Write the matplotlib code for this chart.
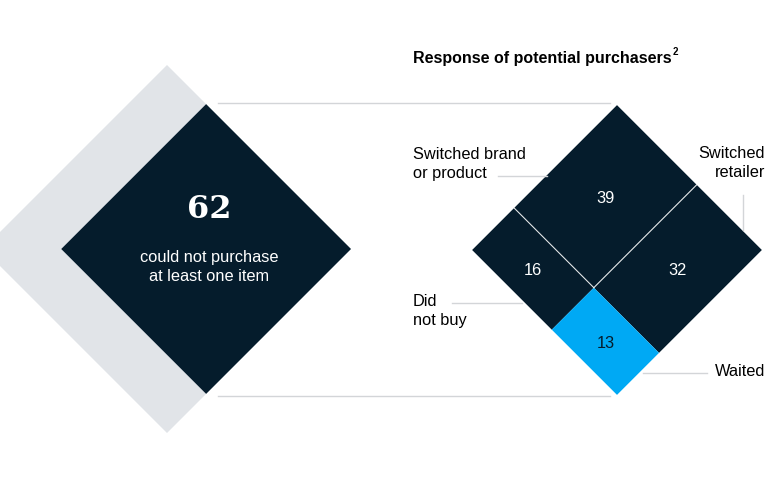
import numpy as np
import matplotlib.pyplot as plt
from matplotlib.patches import Polygon

# data
all_respondents = 100
could_not_purchase = 62
responses = ["Switched brand\nor product", "Switched\nretailer", "Did\nnot buy", "Waited"]
shares = [39, 32, 16, 13]   # share of potential purchasers, %

navy = "#051c2c"
cyan = "#00a9f4"
grey = "#e1e4e8"
rule = "#d3d5d8"
sans = ["Liberation Sans", "DejaVu Sans"]
fs = 11.8

fig = plt.figure(figsize=(7.67, 4.8), dpi=100)
ax = fig.add_axes([0, 0, 1, 1])
ax.set_xlim(0, 767)
ax.set_ylim(480, 0)
ax.axis("off")


def diamond(cx, cy, h, **kw):
    pts = [(cx - h, cy), (cx, cy - h), (cx + h, cy), (cx, cy + h)]
    ax.add_patch(Polygon(pts, closed=True, **kw))


# left side: all respondents vs. could not purchase (area ~ value)
cy = 249
h_all = 184
right_tip = 351
h_62 = h_all * np.sqrt(could_not_purchase / all_respondents)
diamond(right_tip - h_all, cy, h_all, facecolor=grey, edgecolor="none")
cx62 = right_tip - h_62
diamond(cx62, cy, h_62, facecolor=navy, edgecolor="none")
ax.text(cx62 + 3, 210, str(could_not_purchase), color="white", ha="center", va="center",
        fontsize=23, fontfamily="DejaVu Serif", fontweight="bold")
ax.text(cx62 + 3, 267, "could not purchase\nat least one item", color="white", ha="center",
        va="center", fontsize=fs, fontfamily=sans, linespacing=1.3)

# right side: mosaic split of the 62
rcx, rcy = 617, 250
h = h_62
L = np.array([rcx - h, rcy])
T = np.array([rcx, rcy - h])
B = np.array([rcx, rcy + h])

# lines joining the two diamonds
ax.plot([218, rcx - 7], [cy - h_62 - 1, cy - h_62 - 1], color=rule, lw=1)
ax.plot([218, rcx - 7], [cy + h_62 + 2, cy + h_62 + 2], color=rule, lw=1)

brand, retailer, nobuy, waited = shares
a = (nobuy + waited) / 100
b = (nobuy + brand) / 100


def pt(s, t):
    return L + s * (T - L) + t * (B - L)


cells = [
    (brand, a, 1, 0, b, navy, "white"),
    (retailer, a, 1, b, 1, navy, "white"),
    (nobuy, 0, a, 0, b, navy, "white"),
    (waited, 0, a, b, 1, cyan, navy),
]
for val, s0, s1, t0, t1, fc, tc in cells:
    poly = [pt(s0, t0), pt(s1, t0), pt(s1, t1), pt(s0, t1)]
    ax.add_patch(Polygon(poly, closed=True, facecolor=fc, edgecolor="none"))
    c = pt((s0 + s1) / 2, (t0 + t1) / 2)
    ax.text(c[0], c[1] + 2, str(val), color=tc, ha="center", va="center",
            fontsize=fs, fontfamily=sans)

# divider lines
p0, p1 = pt(a, 0), pt(a, b)
ax.plot([p0[0], p1[0]], [p0[1], p1[1]], color="white", lw=0.8, alpha=0.85)
p2 = pt(1, b)
ax.plot([p1[0], p2[0]], [p1[1], p2[1]], color="white", lw=0.8, alpha=0.85)

# title
ax.text(413, 59, "Response of potential purchasers", fontsize=11.5, fontweight="bold",
        fontfamily=sans, va="center", ha="left", color="black")
ax.text(673, 52, "2", fontsize=7, fontweight="bold", fontfamily=sans, va="center", color="black")

# labels with leader lines
ax.text(413, 164, responses[0], fontsize=fs, fontfamily=sans, va="center", linespacing=1.3)
ax.plot([498, 547], [176, 176], color=rule, lw=1)

ax.text(413, 311, responses[2], fontsize=fs, fontfamily=sans, va="center", linespacing=1.4)
ax.plot([452, 522], [303, 303], color=rule, lw=1)

ax.text(765, 163, responses[1], fontsize=fs, fontfamily=sans, va="center", ha="right",
        multialignment="right", linespacing=1.3)
ax.plot([743, 743], [195, 230], color=rule, lw=1)

ax.text(765, 372, responses[3], fontsize=fs, fontfamily=sans, va="center", ha="right")
ax.plot([643, 707], [373, 373], color=rule, lw=1)

fig.savefig("out.png", dpi=100)
